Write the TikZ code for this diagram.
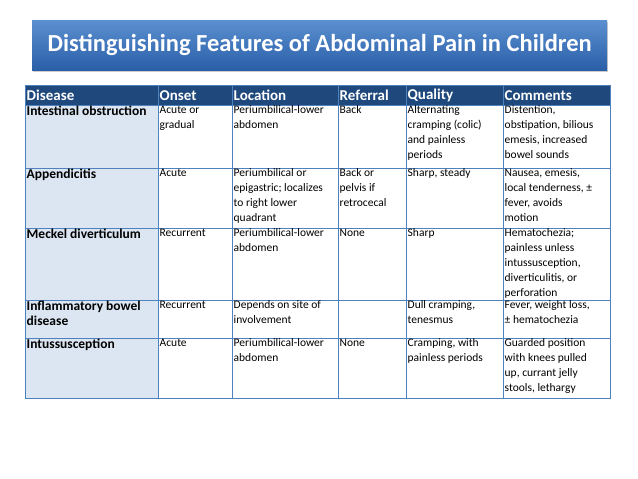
\documentclass[tikz,border=0pt]{standalone}
\usepackage{fontspec}
\setmainfont{Carlito}
\usetikzlibrary{shadows}
\definecolor{hdr}{HTML}{1F497D}
\definecolor{grid}{HTML}{4F81BD}
\definecolor{first}{HTML}{DCE6F2}
\definecolor{tA}{HTML}{5B8FD0}
\definecolor{tB}{HTML}{2A5FA8}
\tikzset{
 cell/.style={anchor=north west,inner xsep=1.5pt,inner ysep=0.5pt,align=left,font=\fontsize{11.5}{15}\selectfont,text=black},
 dcell/.style={cell,font=\fontsize{13.5}{15}\selectfont\bfseries,inner ysep=1pt},
 hcell/.style={anchor=west,inner xsep=1.5pt,font=\fontsize{15}{16}\selectfont\bfseries,text=white},
}
\begin{document}
\begin{tikzpicture}[x=1pt,y=-1pt]
\useasboundingbox (0,0) rectangle (638,479);
\fill[white] (0,0) rectangle (638,479);
% title
\node[draw=none,top color=tA,bottom color=tB,minimum width=575pt,minimum height=50pt,anchor=north west,drop shadow={shadow xshift=1pt,shadow yshift=-2pt,opacity=0.4},text=white,font=\fontsize{24.5}{26}\selectfont\bfseries] (title) at (32,20) {Distinguishing Features of Abdominal Pain in Children};
% table fills
\fill[hdr] (25,85) rectangle (610,105);
\fill[first] (25,105) rectangle (158,398);
\draw[grid,line width=0.7pt] (25,85) rectangle (610,398);
\foreach \y in {105,168,228,300,338} \draw[grid,line width=0.7pt] (25,\y) -- (610,\y);
\foreach \x in {158,232,338,406,503} \draw[grid,line width=0.7pt] (\x,85) -- (\x,398);
% header
\node[hcell] (h1) at (25,95.5) {Disease};
\node[hcell] (h2) at (158,95.5) {Onset};
\node[hcell] (h3) at (232,95.5) {Location};
\node[hcell] (h4) at (338,95.5) {Referral};
\node[hcell] (h5) at (406,95.5) {Quality};
\node[hcell] (h6) at (503,95.5) {Comments};
% row 1
\node[dcell] (a1) at (25,105) {Intestinal obstruction};
\node[cell] (b1) at (158,105) {Acute or\\gradual};
\node[cell] (c1) at (232,105) {Periumbilical-lower\\abdomen};
\node[cell] (d1) at (338,105) {Back};
\node[cell] (e1) at (406,105) {Alternating\\cramping (colic)\\and painless\\periods};
\node[cell] (f1) at (503,105) {Distention,\\obstipation, bilious\\emesis, increased\\bowel sounds};
% row 2
\node[dcell] (a2) at (25,168) {Appendicitis};
\node[cell] (b2) at (158,168) {Acute};
\node[cell] (c2) at (232,168) {Periumbilical or\\epigastric; localizes\\to right lower\\quadrant};
\node[cell] (d2) at (338,168) {Back or\\pelvis if\\retrocecal};
\node[cell] (e2) at (406,168) {Sharp, steady};
\node[cell] (f2) at (503,168) {Nausea, emesis,\\local tenderness, ±\\fever, avoids\\motion};
% row 3
\node[dcell] (a3) at (25,228) {Meckel diverticulum};
\node[cell] (b3) at (158,228) {Recurrent};
\node[cell] (c3) at (232,228) {Periumbilical-lower\\abdomen};
\node[cell] (d3) at (338,228) {None};
\node[cell] (e3) at (406,228) {Sharp};
\node[cell] (f3) at (503,228) {Hematochezia;\\painless unless\\intussusception,\\diverticulitis, or\\perforation};
% row 4
\node[dcell] (a4) at (25,300) {Inflammatory bowel\\disease};
\node[cell] (b4) at (158,300) {Recurrent};
\node[cell] (c4) at (232,300) {Depends on site of\\involvement};
\node[cell] (e4) at (406,300) {Dull cramping,\\tenesmus};
\node[cell] (f4) at (503,300) {Fever, weight loss,\\± hematochezia};
% row 5
\node[dcell] (a5) at (25,338) {Intussusception};
\node[cell] (b5) at (158,338) {Acute};
\node[cell] (c5) at (232,338) {Periumbilical-lower\\abdomen};
\node[cell] (d5) at (338,338) {None};
\node[cell] (e5) at (406,338) {Cramping, with\\painless periods};
\node[cell] (f5) at (503,338) {Guarded position\\with knees pulled\\up, currant jelly\\stools, lethargy};
\end{tikzpicture}
\end{document}
